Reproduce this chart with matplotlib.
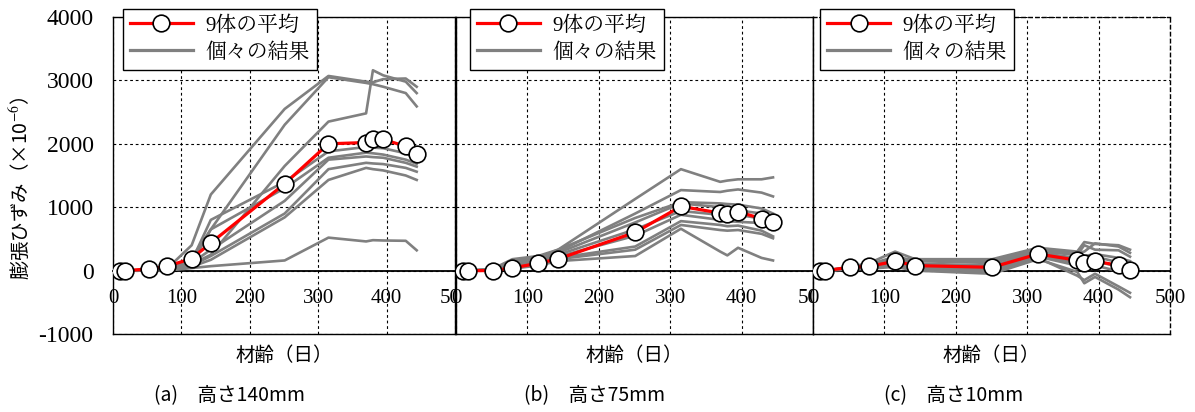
import matplotlib
matplotlib.use("Agg")
import matplotlib.pyplot as plt
from matplotlib import font_manager
from matplotlib.lines import Line2D

installed = {f.name for f in font_manager.fontManager.ttflist}
serif = 'Liberation Serif'
mincho = 'Noto Serif CJK JP' if 'Noto Serif CJK JP' in installed else 'Noto Sans CJK JP'

plt.rcParams['font.family'] = [serif, 'Noto Sans CJK JP']
plt.rcParams['mathtext.fontset'] = 'stix'
plt.rcParams['axes.unicode_minus'] = False

# 材齢（日）: 平均・個々とも同じ測定日
ages = [10, 17, 52, 79, 115, 143, 251, 315, 370, 380, 395, 428, 444]

# (a) 高さ140mm
mean_a = [0, 0, 25, 68, 190, 436, 1370, 2000, 2020, 2070, 2070, 1960, 1840]
ind_a = [
    [0, 0, 10, 30, 400, 1200, 2550, 3070, 2980, 2970, 3020, 3030, 2900],
    [0, 0, 10, 20, 200, 650, 2300, 3050, 2960, 2940, 2900, 2800, 2590],
    [0, 0, 10, 20, 100, 250, 1650, 2350, 2480, 3160, 3080, 2980, 2800],
    [0, 0, 10, 20, 150, 800, 1400, 1880, 1950, 1940, 1930, 1850, 1775],
    [0, 0, 5, 10, 100, 650, 1300, 1780, 1860, 1850, 1830, 1750, 1685],
    [0, 0, 5, 10, 120, 330, 1100, 1750, 1800, 1790, 1780, 1700, 1640],
    [0, 0, 5, 10, 80, 230, 900, 1600, 1700, 1690, 1680, 1620, 1560],
    [0, 0, 5, 10, 60, 170, 840, 1430, 1620, 1600, 1580, 1500, 1430],
    [0, 0, 0, 0, 40, 70, 160, 520, 460, 480, 475, 470, 320],
]

# (b) 高さ75mm
mean_b = [0, 0, 0, 42, 115, 184, 603, 1013, 908, 897, 929, 819, 767]
ind_b = [
    [0, 0, 30, 180, 230, 330, 1130, 1600, 1400, 1420, 1440, 1440, 1470],
    [0, 0, 20, 150, 220, 300, 900, 1270, 1240, 1260, 1280, 1230, 1170],
    [0, 0, 20, 120, 200, 330, 830, 1080, 1060, 1050, 1040, 980, 900],
    [0, 0, 10, 100, 170, 280, 760, 1060, 1000, 980, 950, 900, 830],
    [0, 0, 10, 80, 150, 250, 650, 940, 880, 870, 880, 820, 780],
    [0, 0, 10, 60, 130, 220, 550, 880, 800, 780, 770, 750, 700],
    [0, 0, 0, 50, 100, 200, 380, 780, 720, 700, 710, 630, 540],
    [0, 0, 0, 40, 90, 180, 330, 720, 640, 630, 640, 580, 510],
    [0, 0, 0, 30, 80, 150, 230, 660, 300, 240, 360, 200, 160],
]

# (c) 高さ10mm
mean_c = [0, 0, 52, 68, 147, 79, 52, 262, 163, 121, 147, 84, 5]
ind_c = [
    [0, 0, 60, 120, 300, 180, 180, 360, 300, 450, 420, 400, 330],
    [0, 0, 50, 100, 220, 160, 150, 330, 280, 300, 430, 380, 280],
    [0, 0, 50, 90, 180, 150, 120, 300, 250, 400, 330, 320, 220],
    [0, 0, 40, 80, 160, 110, 80, 280, 200, 230, 260, 200, 150],
    [0, 0, 40, 70, 140, 100, 50, 260, 180, 200, 220, 130, 80],
    [0, 0, 30, 60, 120, 80, 20, 240, 120, 150, 150, 60, 0],
    [0, 0, 30, 50, 100, 60, 0, 220, 80, 100, 80, -10, -60],
    [0, 0, 20, 40, 80, 30, -20, 200, -80, -150, -50, -250, -350],
    [0, 0, 20, 30, 60, 0, -50, 180, -20, -200, -100, -300, -420],
]

titles = ['(a)　高さ140mm', '(b)　高さ75mm', '(c)　高さ10mm']
x_ticks = [0, 100, 200, 300, 400, 500]
y_ticks = [-1000, 0, 1000, 2000, 3000, 4000]

W, H = 1195, 412
fig = plt.figure(figsize=(W / 100, H / 100), dpi=100)

# パネル位置（ピクセル）
boxes = [(113, 342), (456, 357), (813, 357)]
leg_x = [0.029, 0.039, 0.02]
title_x = [0.12, 0.19, 0.2]
top_px, bot_px = 17, 334

num_font = [serif, 'DejaVu Serif']
jp = ['Noto Sans CJK JP', 'DejaVu Sans']
legend_font = [serif, mincho, 'DejaVu Sans']
dash = (0, (2.5, 2.5))

panels = [(mean_a, ind_a), (mean_b, ind_b), (mean_c, ind_c)]
for i, (mean, ind) in enumerate(panels):
    left, width = boxes[i]
    ax = fig.add_axes([left / W, (H - bot_px) / H, width / W, (bot_px - top_px) / H])

    for vals in ind:
        ax.plot(ages, vals, color='#808080', lw=1.9, zorder=2)
    ax.plot(ages, mean, color='#ff0000', lw=2.3, marker='o', ms=12,
            mfc='white', mec='black', mew=1.2, zorder=4)

    ax.set_xlim(0, 500)
    ax.set_ylim(-1000, 4000)
    ax.set_xticks(x_ticks)
    ax.set_yticks(y_ticks)
    ax.grid(True, color='black', linestyle=dash, linewidth=0.8, zorder=1)
    ax.set_axisbelow(True)
    ax.tick_params(axis='x', length=0, labelbottom=False)
    ax.tick_params(axis='y', length=0, pad=14, labelsize=17)
    plt.setp(ax.get_yticklabels(), family=num_font)
    if i > 0:
        ax.tick_params(axis='y', labelleft=False)
    for sp in ax.spines.values():
        sp.set_linewidth(1.0)
        sp.set_color('black')
    if i == 2:
        ax.spines['top'].set_linestyle(dash)
        ax.spines['right'].set_linestyle(dash)

    # 0ライン上の横軸目盛
    sec = ax.secondary_xaxis(0, transform=ax.transData)
    sec.set_xticks(x_ticks)
    sec.tick_params(length=0, pad=13, labelsize=15)
    plt.setp(sec.get_xticklabels(), family=num_font)
    sec.spines['bottom'].set_linewidth(1.3)

    ax.set_xlabel('材齢（日）', family=jp, fontsize=14, labelpad=8)
    ax.text(title_x[i], -0.195, titles[i], transform=ax.transAxes,
            family=jp, fontsize=14, ha='left', va='center')

    if i == 0:
        ax.set_ylabel('膨張ひずみ（×10$^{-6}$）', family=jp, fontsize=14)
        ax.yaxis.set_label_coords(-0.237, 0.46)

    handles = [
        Line2D([], [], color='#ff0000', lw=2.3, marker='o', ms=12,
               mfc='white', mec='black', mew=1.2),
        Line2D([], [], color='#808080', lw=2.3),
    ]
    leg = ax.legend(handles, ['9体の平均', '個々の結果'], loc='upper left',
                    bbox_to_anchor=(leg_x[i], 1.026), borderaxespad=0,
                    fancybox=False, framealpha=1, edgecolor='black',
                    prop={'family': legend_font, 'size': 15},
                    handlelength=3.0, labelspacing=0.35,
                    borderpad=0.35, handletextpad=0.6)
    leg.get_frame().set_linewidth(1.0)
    leg.set_zorder(10)

fig.savefig('out.png', dpi=100)
